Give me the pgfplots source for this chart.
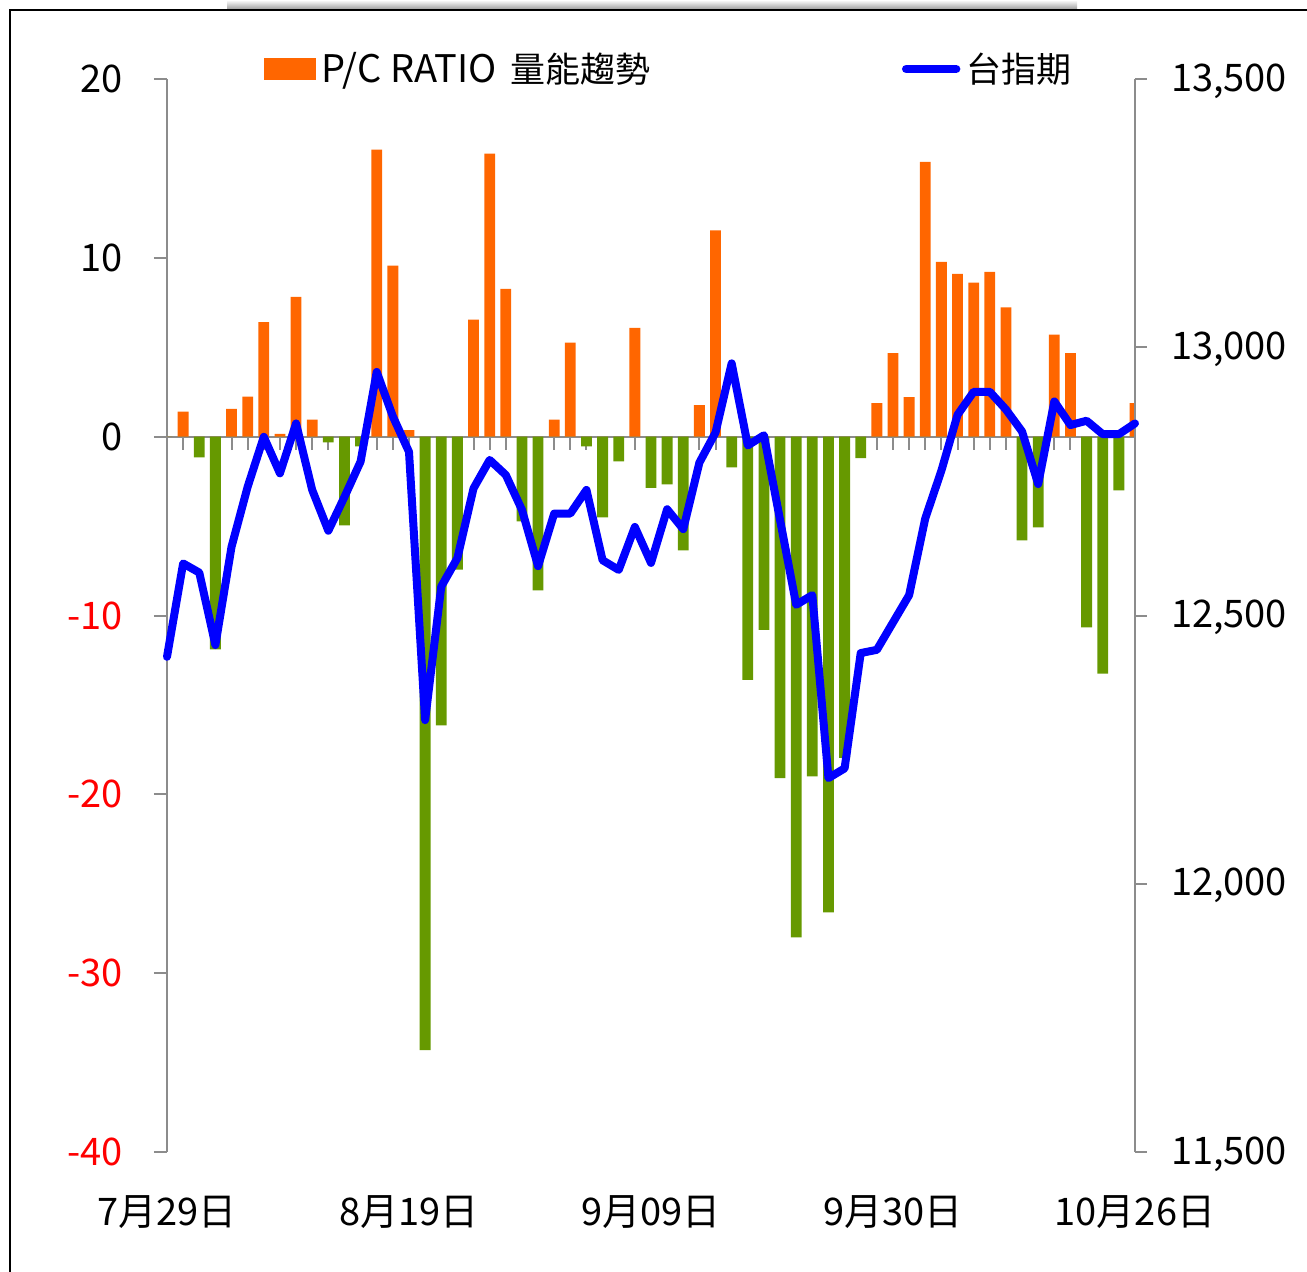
\documentclass[border=0pt]{standalone}
\usepackage{fontspec}
\setmainfont{Noto Sans CJK TC}
\usepackage{pgfplots}
\pgfplotsset{compat=1.18}
\usepackage{pgfplotstable}

\definecolor{pcorange}{HTML}{FF6600}
\definecolor{pcgreen}{HTML}{669900}
\definecolor{axgray}{HTML}{8C8C8C}
\definecolor{lineblue}{HTML}{0000FF}

\pgfplotstableread{
idx pos neg taiex
0 0 0 12423
1 1.40 0 12597
2 0 -1.16 12580
3 0 -11.90 12445
4 1.55 0 12628
5 2.24 0 12740
6 6.41 0 12833
7 0.15 0 12765
8 7.81 0 12858
9 0.95 0 12734
10 0 -0.32 12658
11 0 -4.96 12721
12 0 -0.54 12787
13 16.05 0 12954
14 9.56 0 12871
15 0.37 0 12805
16 0 -34.30 12305
17 0 -16.15 12554
18 0 -7.44 12607
19 6.54 0 12737
20 15.83 0 12790
21 8.26 0 12762
22 0 -4.74 12697
23 0 -8.60 12592
24 0.95 0 12690
25 5.26 0 12690
26 0 -0.54 12734
27 0 -4.51 12603
28 0 -1.38 12585
29 6.08 0 12665
30 0 -2.87 12598
31 0 -2.67 12698
32 0 -6.36 12661
33 1.77 0 12785
34 11.54 0 12841
35 0 -1.72 12970
36 0 -13.60 12817
37 0 -10.80 12836
38 0 -19.10 12678
39 0 -28.00 12520
40 0 -19.00 12538
41 0 -26.60 12197
42 0 -17.96 12215
43 0 -1.20 12430
44 1.87 0 12436
45 4.67 0 12487
46 2.21 0 12538
47 15.36 0 12681
48 9.77 0 12770
49 9.10 0 12874
50 8.61 0 12917
51 9.21 0 12917
52 7.23 0 12884
53 0 -5.80 12843
54 0 -5.07 12745
55 5.70 0 12899
56 4.67 0 12855
57 0 -10.67 12863
58 0 -13.25 12838
59 0 -3.00 12838
60 1.87 0 12858
}\data

\begin{document}
\begin{tikzpicture}[font=\fontsize{19pt}{22pt}\selectfont]
% top shadow of the frame
\shade[top color=white, bottom color=black!45] (30pt,570.5pt) rectangle (455pt,576pt);

\begin{axis}[
  at={(0,0)}, anchor=south west, scale only axis,
  width=484pt, height=536.5pt,
  xmin=0, xmax=60, ymin=-40, ymax=20,
  axis y line*=left, axis x line*=bottom,
  x axis line style={draw=none},
  xtick={0,15,30,45,60},
  xticklabels={7月29日,8月19日,9月09日,9月30日,10月26日},
  major x tick style={draw=none},
  xticklabel style={yshift=-12pt},
  ytick={-40,-30,-20,-10,0,10,20},
  yticklabels={\color{red}-40,\color{red}-30,\color{red}-20,\color{red}-10,0,10,20},
  y axis line style={axgray, line width=1pt},
  major y tick style={axgray, line width=1pt},
  tick align=outside, major tick length=6.5pt,
  yticklabel style={xshift=-12pt},
  legend style={at={(0.1002,1.0093)}, anchor=west, draw=none, fill=none,
    inner sep=0pt, outer sep=0pt, column sep=3pt,
    nodes={inner sep=0pt}},
  legend image code/.code={\fill[pcorange] (0pt,-5.5pt) rectangle (26pt,5.5pt);},
]
\draw[axgray, line width=1pt] (axis cs:0,0) -- (axis cs:60,0);
\pgfplotsinvokeforeach{0,...,60}{\draw[axgray, line width=1pt] (axis cs:#1,0) -- ++(0pt,-6.5pt);}
\addplot[ybar, bar width=0.67, bar shift=0pt, fill=pcorange, draw=none] table[x=idx, y=pos]{\data};
\addlegendentry{P/C RATIO\hspace{7pt}{\fontsize{17.5pt}{21pt}\selectfont 量能趨勢}}
\addplot[ybar, bar width=0.67, bar shift=0pt, fill=pcgreen, draw=none, forget plot] table[x=idx, y=neg]{\data};
\end{axis}

\begin{axis}[
  at={(0,0)}, anchor=south west, scale only axis,
  width=484pt, height=536.5pt,
  xmin=0, xmax=60, ymin=11500, ymax=13500,
  axis y line*=right, axis x line=none,
  clip=false, scaled y ticks=false,
  ytick={11500,12000,12500,13000,13500},
  yticklabels={{11,500},{12,000},{12,500},{13,000},{13,500}},
  y axis line style={axgray, line width=1pt},
  major y tick style={axgray, line width=1pt},
  tick align=outside, major tick length=6pt,
  yticklabel style={xshift=8.5pt, yshift=-1pt},
  legend style={at={(0.7593,1.0093)}, anchor=west, draw=none, fill=none,
    inner sep=0pt, outer sep=0pt, column sep=3pt,
    nodes={inner sep=0pt}},
  legend image code/.code={\draw[lineblue, line width=4.2pt, line cap=round] (2pt,0pt) -- (27pt,0pt);},
]
\addplot[lineblue, line width=4pt, line join=round, line cap=round] table[x=idx, y=taiex]{\data};
\addlegendentry{{\fontsize{17.5pt}{21pt}\selectfont 台指期}}
\end{axis}

% outer frame
\draw[black, line width=1.3pt] (-78.5pt,-60pt) -- (-78.5pt,571pt) -- (571pt,571pt);

\pgfresetboundingbox
\path[use as bounding box] (-83.5pt,-59.5pt) rectangle (570pt,576pt);
\end{tikzpicture}
\end{document}
